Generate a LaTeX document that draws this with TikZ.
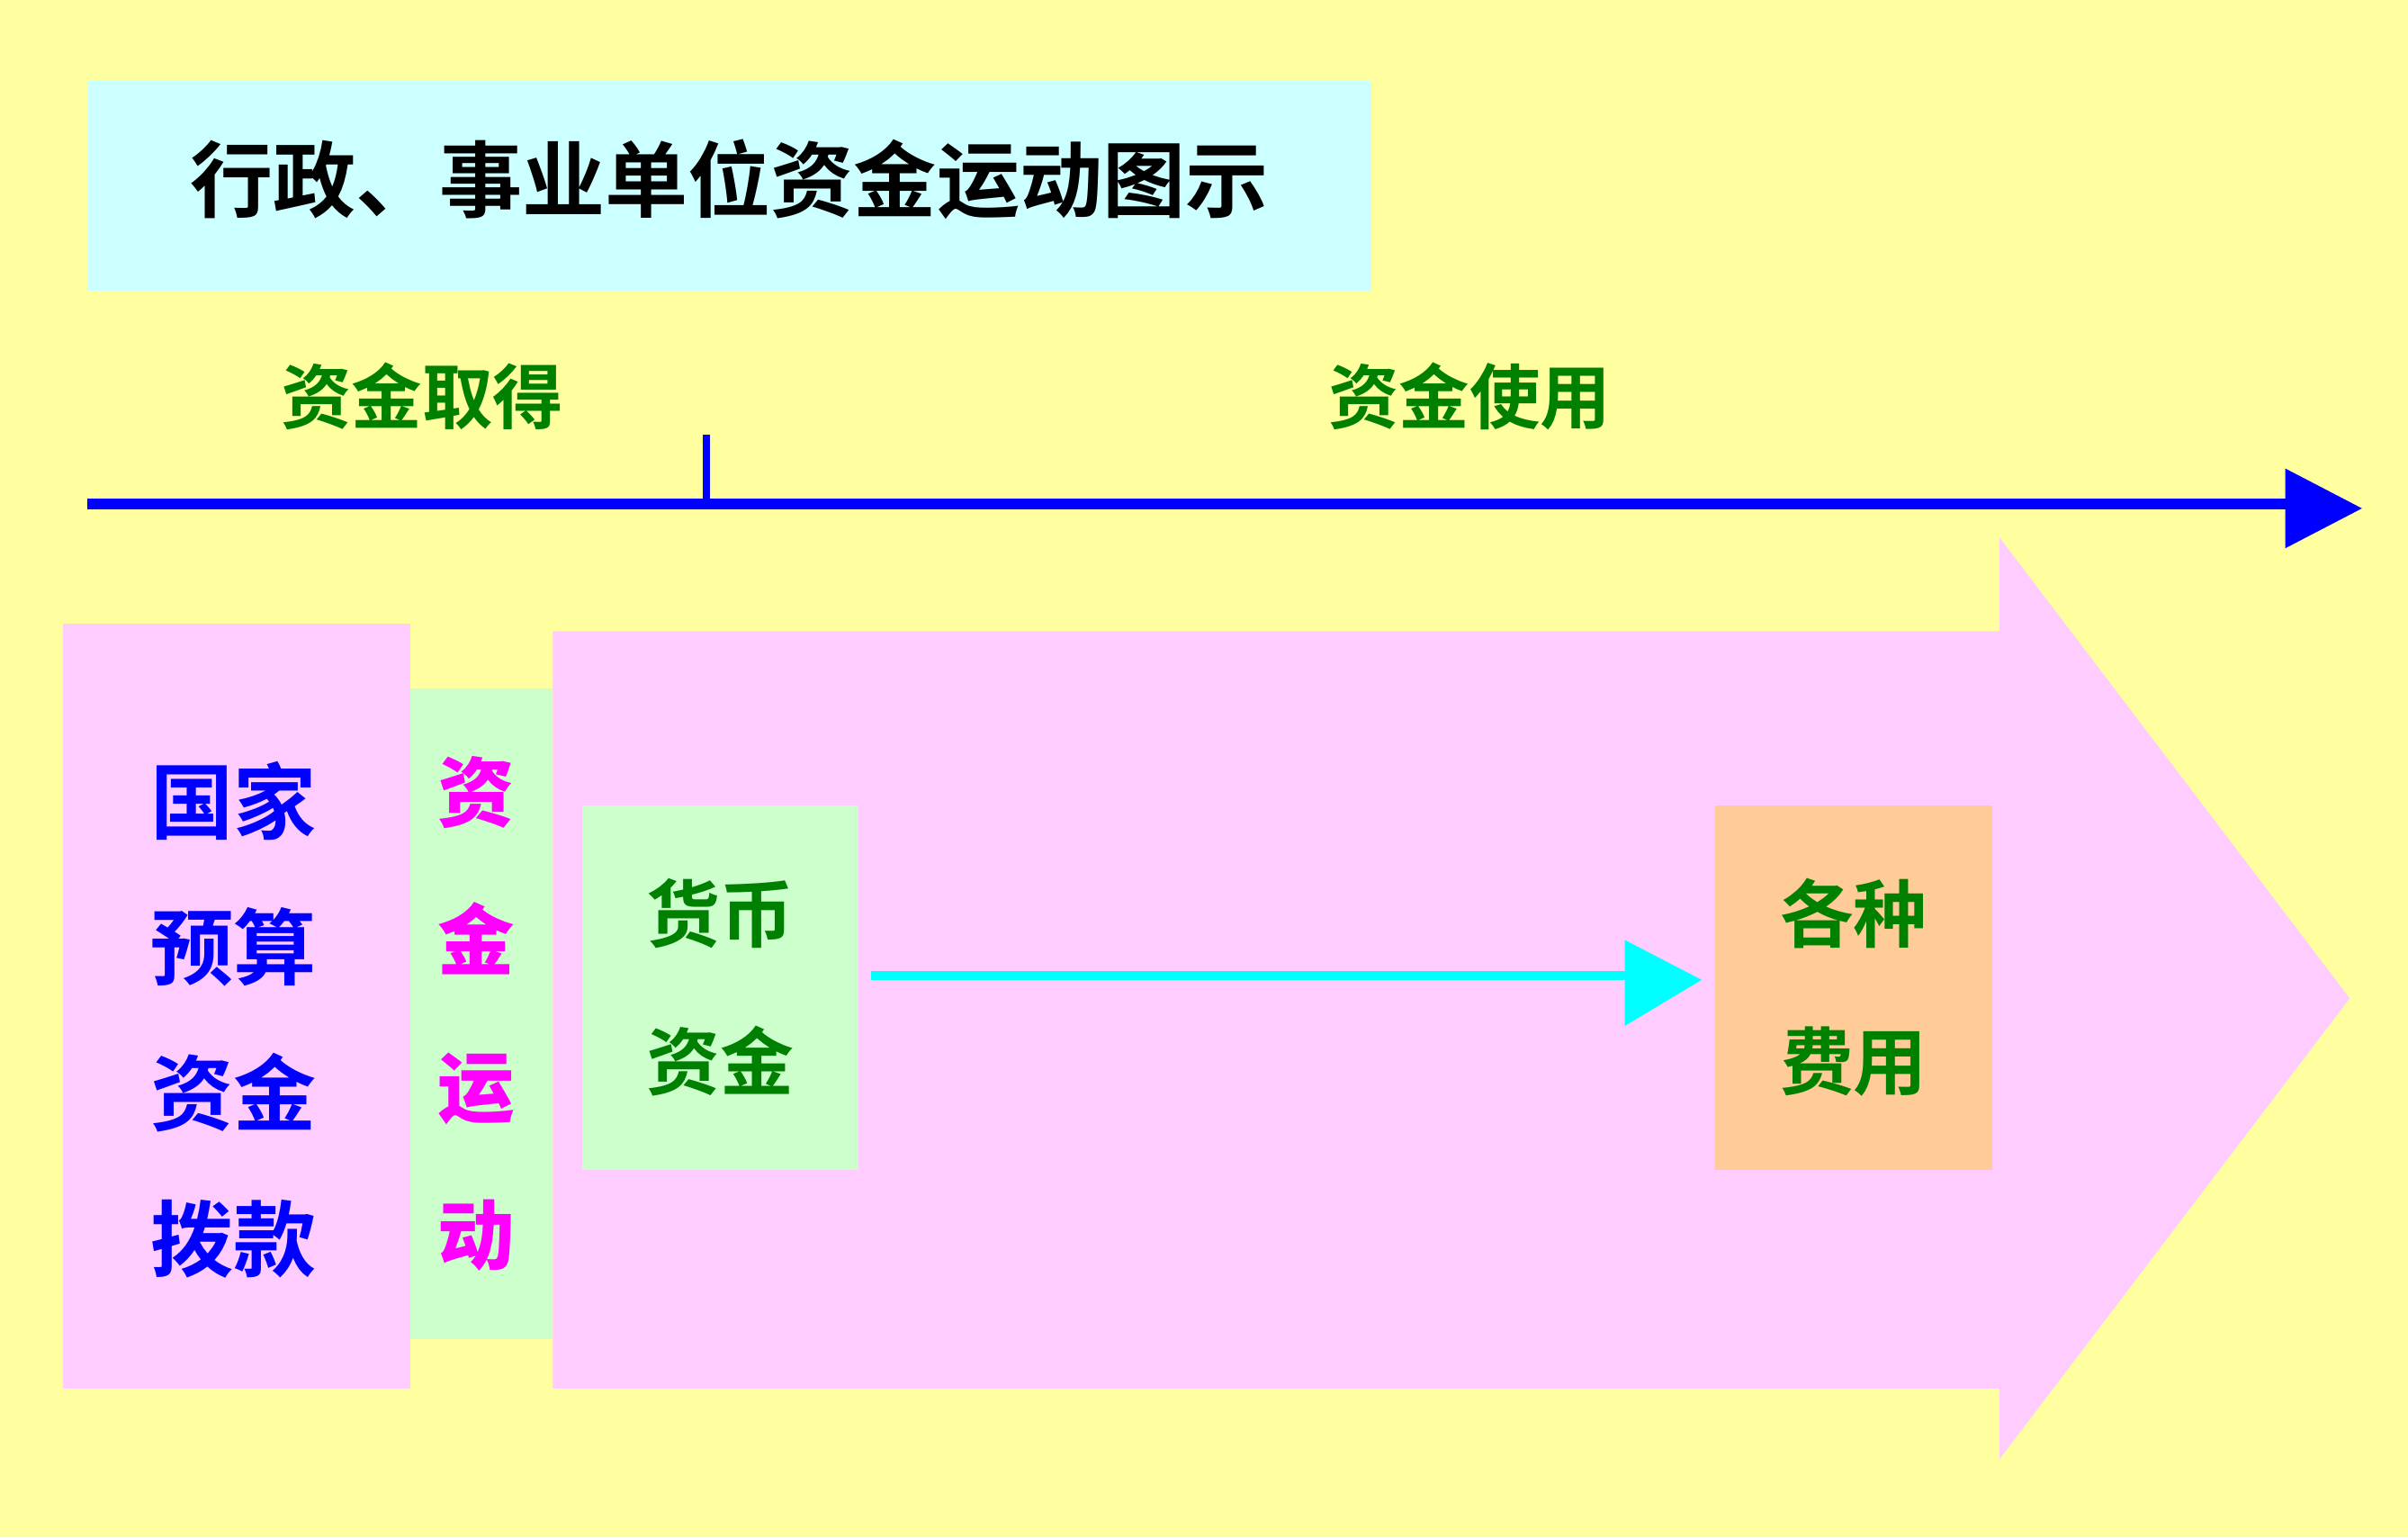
\documentclass[tikz,border=0pt]{standalone}
\usepackage{fontspec}
\newfontfamily\cjk{Noto Sans CJK SC}[BoldFont={Noto Sans CJK SC Bold}]
\usetikzlibrary{positioning}
\definecolor{bgyellow}{RGB}{255,255,160}
\definecolor{titlecyan}{RGB}{204,255,255}
\definecolor{boxpink}{RGB}{255,204,255}
\definecolor{boxgreen}{RGB}{204,255,204}
\definecolor{boxorange}{RGB}{255,204,153}
\definecolor{txtgreen}{RGB}{0,128,0}
\definecolor{flowcyan}{RGB}{0,255,255}
\definecolor{flowmagenta}{RGB}{255,0,255}
\definecolor{axisblue}{RGB}{0,0,255}
\tikzset{
  label/.style={font=\cjk\bfseries\fontsize{46}{50}\selectfont, inner sep=0pt},
  stack/.style={label, align=center, font=\cjk\bfseries\fontsize{48}{96}\selectfont}
}
\begin{document}
\begin{tikzpicture}[x=1pt,y=-1pt]
\useasboundingbox (0,0) rectangle (1568,1001);
\fill[bgyellow] (0,0) rectangle (1568,1001);

% title
\fill[titlecyan] (57,53) rectangle (893,189);
\node[label, font=\cjk\bfseries\fontsize{54}{60}\selectfont] (title) at (475,117) {行政、事业单位资金运动图示};

% axis
\node[label, text=txtgreen] (get) at (275,258) {资金取得};
\node[label, text=txtgreen] (use) at (957,258) {资金使用};
\coordinate (axl) at (57,328);
\coordinate (axr) at (1490,328);
\draw[axisblue, line width=7pt] (axl) -- (axr);
\fill[axisblue] (1488,305) -- (1538,331) -- (1488,357) -- cycle;
\draw[axisblue, line width=5pt] (460,283) -- (460,328);

% big pink arrow
\fill[boxpink] (360,411) -- (1302,411) -- (1302,350) -- (1530,650) -- (1302,950) -- (1302,904) -- (360,904) -- cycle;
\fill[boxpink] (41,406) rectangle (267,904);
\fill[boxgreen] (267,448) rectangle (360,872);

\node[stack, text=axisblue, font=\cjk\bfseries\fontsize{54}{95}\selectfont] (budget) at (152,664) {国家\\预算\\资金\\拨款};
\node[stack, text=flowmagenta, font=\cjk\bfseries\itshape\fontsize{50}{96}\selectfont] (flow) at (310,660) {资\\金\\运\\动};

% boxes
\node[fill=boxgreen, minimum width=180pt, minimum height=237pt, inner sep=0pt] (money) at (469,643) {};
\node[stack, text=txtgreen] at (money) {货币\\资金};
\node[fill=boxorange, minimum width=180pt, minimum height=237pt, inner sep=0pt] (cost) at (1207,643) {};
\node[stack, text=txtgreen] at (cost) {各种\\费用};

\draw[flowcyan, line width=6pt] ([xshift=8pt,yshift=8pt]money.east) -- ([xshift=-55pt,yshift=8pt]cost.west);
\fill[flowcyan] (1058,612) -- (1108,638) -- (1058,668) -- cycle;
\end{tikzpicture}
\end{document}
